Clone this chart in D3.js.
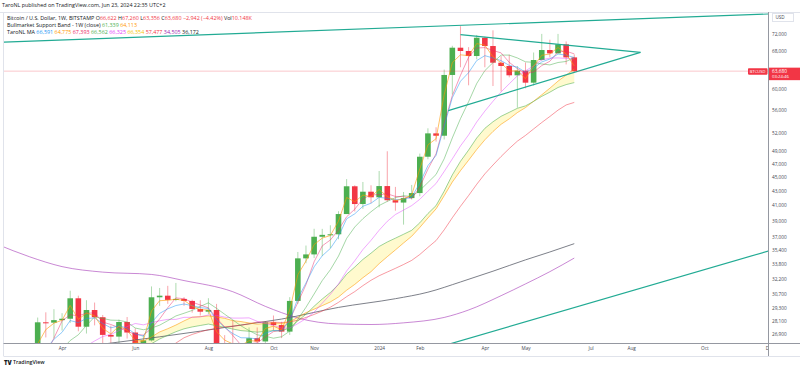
<!DOCTYPE html>
<html>
<head>
<meta charset="utf-8">
<script src="https://cdn.jsdelivr.net/npm/d3@7/dist/d3.min.js"></script>
<style>
  body { margin: 0; background: #fff; }
  svg { display: block; font-family: "Open Sans", "Noto Sans", sans-serif; }
</style>
</head>
<body>
<svg id="chart" width="800" height="370"></svg>
<script>
// weekly BTC/USD (Bitstamp) candles, first bar is the week of 2023-03-13
const firstWeek = "2023-03-13";

const opens = [22130, 27950, 27920, 28150, 28280, 30240, 27550, 29100, 28420, 26820,
  26670, 27980, 27030, 25850, 26340, 30340, 30500, 30080, 30180, 29980,
  29200, 28940, 29100, 26100, 26000, 25870, 25830, 26530, 26250, 27950,
  27700, 27110, 29980, 34470, 34920, 37000, 37230, 37300, 39860, 43660,
  41190, 42890, 42110, 43690, 41710, 41390, 42000, 42700, 48100, 51930,
  51530, 62890, 68770, 68030, 66920, 71060, 69150, 65470, 64770, 62820,
  63780, 61320, 66050, 68250, 67510, 69540, 66622];
const highs = [28390, 28880, 29180, 28800, 31000, 30500, 30050, 29820, 28630, 27650,
  28200, 28440, 27400, 26800, 31440, 31280, 31500, 31800, 30350, 30100,
  30050, 30250, 29690, 26800, 28150, 26000, 27480, 27480, 28030, 28580,
  28000, 30350, 35200, 35950, 37980, 37970, 38420, 40230, 44700, 43800,
  44280, 43800, 45900, 48970, 43570, 42850, 43850, 48600, 52800, 52980,
  64000, 69200, 73800, 68900, 71700, 71300, 72800, 66900, 67200, 64750,
  65500, 67700, 71950, 70600, 71950, 70200, 67260];
const lows = [21900, 26600, 26530, 27210, 27900, 27140, 26940, 27670, 25810, 26100,
  25870, 26500, 25350, 24800, 26240, 29500, 29700, 29950, 29500, 28850,
  28580, 28700, 25170, 25800, 25370, 24930, 24930, 26050, 25980, 27220,
  26540, 26820, 29700, 33920, 34500, 34750, 35630, 36700, 39860, 40200,
  40550, 41300, 40750, 41500, 40300, 38500, 41800, 42250, 47700, 50550,
  50900, 59000, 64500, 60800, 66200, 64500, 60650, 59600, 62400, 56500,
  60200, 60750, 65900, 66650, 67500, 65100, 63356];
const closes = [27950, 27920, 28150, 28280, 30240, 27550, 29100, 28420, 26820, 26670,
  27980, 27030, 25850, 26340, 30340, 30500, 30080, 30180, 29980, 29200,
  28940, 29100, 26100, 26000, 25870, 25830, 26530, 26250, 27950, 27700,
  27110, 29980, 34470, 34920, 37000, 37230, 37300, 39860, 43660, 41190,
  42890, 42110, 43690, 41710, 41390, 42000, 42700, 48100, 51930, 51530,
  62890, 68770, 68030, 66920, 71060, 69150, 65470, 64770, 62820, 63780,
  61320, 66050, 68250, 67510, 69540, 66622, 63680];

// TaroNL MA, one value per candle
const maOrange = [26040, 27290, 27870, 28140, 29540, 28220, 28810, 28550, 27400, 26910,
  27620, 27230, 26310, 26330, 29010, 30000, 30050, 30140, 30040, 29480,
  29120, 29110, 27100, 26360, 26040, 25900, 26320, 26270, 27390, 27600,
  27270, 29080, 32670, 34170, 36060, 36840, 37150, 38950, 42090, 41490,
  42420, 42210, 43200, 42210, 41660, 41890, 42430, 46210, 50020, 51020,
  58940, 65500, 67180, 67000, 69700, 69330, 66760, 65430, 63690, 63750,
  62130, 64740, 67080, 67370, 68820, 67350, 64775];
const maBlue = [24420, 25590, 26440, 27050, 28110, 27920, 28310, 28350, 27840, 27450,
  27630, 27430, 26900, 26710, 27920, 28780, 29210, 29530, 29680, 29520,
  29330, 29250, 28200, 27470, 26940, 26570, 26560, 26460, 26960, 27210,
  27180, 28110, 30230, 31790, 33530, 34760, 35610, 37030, 39240, 39890,
  40890, 41300, 42100, 41970, 41780, 41850, 42130, 44120, 46720, 48320,
  53180, 58380, 61600, 63370, 65930, 67000, 66490, 65920, 64890, 64520,
  63450, 64320, 65630, 66260, 67350, 67110, 66591];
const maPink = [24000, 25110, 26540, 28080, 28650, 28560, 28790, 28830, 27970, 27750,
  27470, 27130, 26880, 26800, 27390, 28260, 29320, 30280, 30190, 29860,
  29580, 29310, 28340, 27540, 26770, 25950, 26060, 26120, 26640, 27110,
  27250, 28190, 29820, 31620, 34090, 35910, 36610, 37850, 39510, 40500,
  41900, 42460, 42470, 42600, 42230, 42200, 41950, 43550, 46180, 48570,
  53610, 58780, 62810, 66650, 68700, 68790, 68150, 67610, 65550, 64210,
  63170, 63490, 64850, 65780, 67840, 67980, 67393];
const maGreen = [23610, 24130, 24780, 25590, 26330, 26830, 27670, 28450, 28310, 28150,
  28130, 27980, 27430, 27280, 27430, 27690, 28100, 28540, 28790, 29060,
  29450, 29790, 29260, 28700, 28170, 27630, 27200, 26830, 26700, 26530,
  26660, 27150, 28230, 29360, 30670, 32050, 33210, 34730, 36800, 38200,
  39260, 40160, 40990, 41550, 42060, 42330, 42210, 43070, 44200, 45380,
  47780, 51160, 54490, 57610, 61150, 63790, 65480, 67130, 67120, 66500,
  65660, 65550, 65200, 65000, 65510, 65740, 66562];
const maViolet = [21770, 22620, 23510, 24370, 25090, 25460, 25870, 26290, 26680, 26860,
  27200, 27560, 27840, 27720, 27910, 28090, 28220, 28220, 28410, 28410,
  28450, 28630, 28590, 28430, 28340, 28340, 28360, 28040, 27850, 27660,
  27430, 27430, 27830, 28290, 28900, 29760, 30630, 31700, 33070, 34200,
  35480, 36570, 37800, 38920, 39800, 40380, 40980, 41830, 42960, 44060,
  45830, 47760, 49830, 51670, 53900, 55860, 57690, 59490, 61090, 62710,
  63730, 64810, 66100, 66450, 66510, 66400, 66325];
const maRed = [null, null, null, null, null, null, null, null, null, null,
  null, null, null, null, 24660, 25150, 25620, 26110, 26570, 26860,
  27090, 27280, 27390, 27540, 27600, 27680, 27820, 27970, 27970, 27960,
  27930, 27990, 28140, 28400, 28680, 29000, 29370, 29840, 30400, 30910,
  31520, 32080, 32560, 32960, 33360, 33780, 34240, 34910, 35730, 36540,
  37850, 39380, 40880, 42350, 43940, 45470, 46810, 48140, 49410, 50620,
  51580, 52690, 53810, 54890, 56040, 57000, 57477];

// Bull market support band
const bandGreen = [21180, 21790, 22370, 22910, 23580, 23940, 24410, 24770, 24960, 25120,
  25380, 25530, 25560, 25630, 26060, 26460, 26790, 27100, 27360, 27530,
  27660, 27790, 27640, 27490, 27340, 27200, 27140, 27060, 27140, 27190,
  27180, 27440, 28080, 28700, 29460, 30170, 30820, 31640, 32730, 33500,
  34350, 35060, 35840, 36370, 36830, 37300, 37790, 38730, 39930, 40980,
  42970, 45320, 47380, 49160, 51150, 52790, 53940, 54920, 55640, 56380,
  56830, 57670, 58630, 59440, 60360, 60930, 61339];
const bandOrange = [20210, 20550, 21140, 21740, 22430, 22950, 23550, 24130, 24630, 25140,
  25680, 25990, 26140, 26270, 26640, 27080, 27370, 27700, 28080, 28430,
  28480, 28540, 28440, 28320, 28100, 28020, 27890, 27780, 27840, 27890,
  27840, 27990, 28420, 28850, 29180, 29520, 29880, 30370, 31050, 31650,
  32350, 33000, 33880, 34660, 35440, 36250, 37060, 38150, 39350, 40540,
  42330, 44270, 45950, 47550, 49250, 50840, 52250, 53500, 54460, 55590,
  56510, 57700, 58930, 60220, 61630, 62860, 64113];

// long averages, sampled
const maPurple = [["2023-02-06", 36100], ["2023-03-06", 34650], ["2023-04-03", 33550],
  ["2023-05-08", 32950], ["2023-06-19", 32700], ["2023-07-17", 32050], ["2023-08-28", 30900],
  ["2023-09-25", 29450], ["2023-10-09", 28850], ["2023-10-23", 28350], ["2023-11-27", 27800],
  ["2023-12-25", 27750], ["2024-01-22", 27900], ["2024-02-26", 28400], ["2024-03-18", 29100],
  ["2024-04-15", 30500], ["2024-05-06", 31700], ["2024-05-27", 33000], ["2024-06-17", 34505]];
const maGray = [["2023-02-06", 24900], ["2023-03-13", 25350], ["2023-04-17", 25750],
  ["2023-05-22", 26200], ["2023-06-26", 26650], ["2023-07-31", 27150], ["2023-09-04", 27700],
  ["2023-10-09", 28250], ["2023-11-27", 29350], ["2024-01-15", 30200], ["2024-02-12", 30850],
  ["2024-03-11", 31900], ["2024-04-08", 33050], ["2024-05-06", 34300], ["2024-05-27", 35200],
  ["2024-06-17", 36172]];

// trend lines drawn on the chart
const trendLines = [
  [["2023-01-30", 69920], ["2025-01-06", 77190]],
  [["2024-03-11", 71760], ["2024-08-13", 67740]],
  [["2024-02-29T12:00:00Z", 55960], ["2024-08-13", 67740]],
  [["2024-02-12", 25500], ["2025-01-06", 36750]]
];

const priceTicks = [26900, 28100, 29300, 30700, 32200, 33800, 35400, 37000, 39000, 41000,
  43000, 45000, 47000, 49000, 52000, 56000, 60000, 68000, 72000];
const timeTicks = [["2023-04-03", "Apr"], ["2023-06-05", "Jun"], ["2023-08-07", "Aug"],
  ["2023-10-02", "Oct"], ["2023-11-06", "Nov"], ["2024-01-01", "2024"], ["2024-02-05", "Feb"],
  ["2024-04-01", "Apr"], ["2024-05-06", "May"], ["2024-07-01", "Jul"], ["2024-08-05", "Aug"],
  ["2024-10-07", "Oct"], ["2024-12-02", "Dec"]];

const lastPrice = 63680;
const up = "#4caf50", down = "#f23645", dark = "#131722", teal = "#22ab94";

const svg = d3.select("#chart");
const plot = {left: 4, right: 768, top: 12, bottom: 343};

const weeks = closes.map((_, i) => d3.utcDay.offset(new Date(firstWeek), 7 * i));
const x = d3.scaleUtc()
  .domain([new Date("2023-02-12"), new Date("2024-11-30T19:00:00Z")])
  .range([plot.left, plot.right]);
const y = d3.scaleLog().domain([26117, 77310]).range([plot.bottom, plot.top]);

svg.append("rect").attr("width", 800).attr("height", 370).attr("fill", "#fff");

svg.append("defs").append("clipPath").attr("id", "plotClip")
  .append("rect")
  .attr("x", plot.left).attr("y", plot.top)
  .attr("width", plot.right - plot.left).attr("height", plot.bottom - plot.top);
const g = svg.append("g").attr("clip-path", "url(#plotClip)");

// band fill under everything
const bandArea = d3.area()
  .x((d, i) => x(weeks[i]))
  .y0((d, i) => y(bandGreen[i]))
  .y1(d => y(d));
g.append("path").datum(bandOrange).attr("d", bandArea)
  .attr("fill", "#ffeb3b").attr("fill-opacity", 0.25);

// candles
const bars = closes.map((c, i) => ({t: weeks[i], o: opens[i], h: highs[i], l: lows[i], c}));
const bw = 5.6;
const cg = g.append("g").selectAll("g").data(bars).join("g");
cg.append("line")
  .attr("x1", d => x(d.t)).attr("x2", d => x(d.t))
  .attr("y1", d => y(d.h)).attr("y2", d => y(d.l))
  .attr("stroke", d => d.c >= d.o ? up : down)
  .attr("stroke-opacity", 0.45).attr("stroke-width", 1);
cg.append("rect")
  .attr("x", d => x(d.t) - bw / 2).attr("width", bw)
  .attr("y", d => y(Math.max(d.o, d.c)))
  .attr("height", d => Math.max(1, y(Math.min(d.o, d.c)) - y(Math.max(d.o, d.c))))
  .attr("fill", d => d.c >= d.o ? up : down);

// moving averages
const weekLine = d3.line().defined(d => d != null).x((d, i) => x(weeks[i])).y(d => y(d));
const sampleLine = d3.line().x(d => x(new Date(d[0]))).y(d => y(d[1])).curve(d3.curveMonotoneX);

g.append("path").datum(maPurple).attr("d", sampleLine)
  .attr("fill", "none").attr("stroke", "#9c27b0").attr("stroke-opacity", 0.55).attr("stroke-width", 1);
g.append("path").datum(maGray).attr("d", sampleLine)
  .attr("fill", "none").attr("stroke", "#5d606b").attr("stroke-opacity", 0.8).attr("stroke-width", 1);

const weekly = [
  [maRed, "#f23645", 0.5],
  [bandOrange, "#ff9800", 0.55],
  [bandGreen, "#4caf50", 0.55],
  [maViolet, "#e040fb", 0.45],
  [maGreen, "#4caf50", 0.5],
  [maPink, "#e91e63", 0.45],
  [maBlue, "#2196f3", 0.5],
  [maOrange, "#ff9800", 0.6]
];
weekly.forEach(([vals, color, op]) => {
  g.append("path").datum(vals).attr("d", weekLine)
    .attr("fill", "none").attr("stroke", color)
    .attr("stroke-opacity", op).attr("stroke-width", 1);
});

// trend lines
g.selectAll(".trend").data(trendLines).join("line")
  .attr("class", "trend")
  .attr("x1", d => x(new Date(d[0][0]))).attr("y1", d => y(d[0][1]))
  .attr("x2", d => x(new Date(d[1][0]))).attr("y2", d => y(d[1][1]))
  .attr("stroke", teal).attr("stroke-width", 1.2);

// last price line
g.append("line")
  .attr("x1", plot.left).attr("x2", plot.right)
  .attr("y1", y(lastPrice)).attr("y2", y(lastPrice))
  .attr("stroke", down).attr("stroke-opacity", 0.35).attr("stroke-width", 0.8);

// frame
const frame = svg.append("g").attr("fill", "none");
frame.append("line").attr("x1", 0).attr("x2", 800).attr("y1", 12.5).attr("y2", 12.5).attr("stroke", "#e0e3eb");
frame.append("line").attr("x1", 3.5).attr("x2", 3.5).attr("y1", 12).attr("y2", 356).attr("stroke", "#e0e3eb");
frame.append("line").attr("x1", 3.5).attr("x2", 800).attr("y1", 343.5).attr("y2", 343.5).attr("stroke", "#9598a1");
frame.append("line").attr("x1", 3.5).attr("x2", 800).attr("y1", 356.5).attr("y2", 356.5).attr("stroke", "#e0e3eb");
frame.append("line").attr("x1", 768.5).attr("x2", 768.5).attr("y1", 12).attr("y2", 356).attr("stroke", "#9598a1");

// price axis
const yAxis = d3.axisRight(y).tickValues(priceTicks).tickFormat(d3.format(",")).tickSize(0).tickPadding(4);
svg.append("g").attr("transform", `translate(${plot.right},0)`).call(yAxis)
  .call(ax => ax.select(".domain").remove())
  .call(ax => ax.selectAll("text").attr("font-size", 4.7).attr("fill", "#434651")
    .attr("font-family", "'Open Sans', sans-serif"));

svg.append("rect").attr("x", 772.5).attr("y", 13.5).attr("width", 21).attr("height", 8)
  .attr("fill", "#fff").attr("stroke", "#e0e3eb");
svg.append("text").attr("x", 775.5).attr("y", 19.3).attr("font-size", 4.6).attr("fill", "#434651").text("USD");

// time axis
svg.append("defs").append("clipPath").attr("id", "timeClip")
  .append("rect").attr("x", 0).attr("y", 343).attr("width", plot.right).attr("height", 14);
const xAxis = d3.axisBottom(x)
  .tickValues(timeTicks.map(d => new Date(d[0])))
  .tickFormat((d, i) => timeTicks[i][1])
  .tickSize(0).tickPadding(3.5);
svg.append("g").attr("clip-path", "url(#timeClip)")
  .append("g").attr("transform", `translate(0,${plot.bottom})`).call(xAxis)
  .call(ax => ax.select(".domain").remove())
  .call(ax => ax.selectAll("text").attr("font-size", 4.7).attr("fill", "#434651")
    .attr("font-family", "'Open Sans', sans-serif"));

// price labels on the right
const py = y(lastPrice);
svg.append("rect").attr("x", 748).attr("y", py - 3).attr("width", 19.5).attr("height", 6.5)
  .attr("rx", 0.8).attr("fill", down);
svg.append("text").attr("x", 757.7).attr("y", py + 1.6).attr("text-anchor", "middle")
  .attr("font-size", 4.1).attr("fill", "#fff").text("BTCUSD");
svg.append("rect").attr("x", 769).attr("y", py - 3.5).attr("width", 31).attr("height", 12.5).attr("fill", down);
svg.append("text").attr("x", 772).attr("y", py + 1.8).attr("font-size", 4.8).attr("fill", "#fff")
  .text(d3.format(",")(lastPrice));
svg.append("text").attr("x", 772).attr("y", py + 7.2).attr("font-size", 4.3).attr("fill", "#fff")
  .text("03:24:46");

// title and legend
svg.append("text").attr("x", 2).attr("y", 7).attr("font-size", 5.4).attr("fill", dark)
  .text("TaroNL published on TradingView.com, Jun 23, 2024 22:35 UTC+2");

const legendRows = [
  [["Bitcoin / U.S. Dollar, 1W, BITSTAMP ", dark], ["O", dark], ["66,622", down], [" H", dark], ["67,260", down],
   [" L", dark], ["63,356", down], [" C", dark], ["63,680", down], [" \u22122,942 (\u22124.42%)", down],
   [" Vol", dark], ["10.148K", down]],
  [["Bullmarket Support Band - 1W (close) ", dark], ["61,339", "#4caf50"], [" 64,113", "#ff9800"]],
  [["TaroNL MA ", dark], ["66,591", "#2196f3"], [" 64,775", "#ff9800"], [" 67,393", "#e91e63"],
   [" 66,562", "#4caf50"], [" 66,325", "#e040fb"], [" 66,354", "#f5c400"], [" 57,477", down],
   [" 34,505", "#9c27b0"], [" 36,172", dark]]
];
legendRows.forEach((parts, r) => {
  const t = svg.append("text").attr("x", 7).attr("y", 19.8 + r * 7.3)
    .attr("font-size", 5.4).attr("xml:space", "preserve");
  parts.forEach(([s, c]) => t.append("tspan").attr("fill", c).text(s));
});

// footer logo
svg.append("text").attr("x", 4).attr("y", 364.5).attr("font-size", 6).attr("font-weight", 800)
  .attr("fill", dark).text("TV");
svg.append("text").attr("x", 13).attr("y", 364.3).attr("font-size", 5.3).attr("font-weight", 600)
  .attr("fill", dark).text("TradingView");
</script>
</body>
</html>
